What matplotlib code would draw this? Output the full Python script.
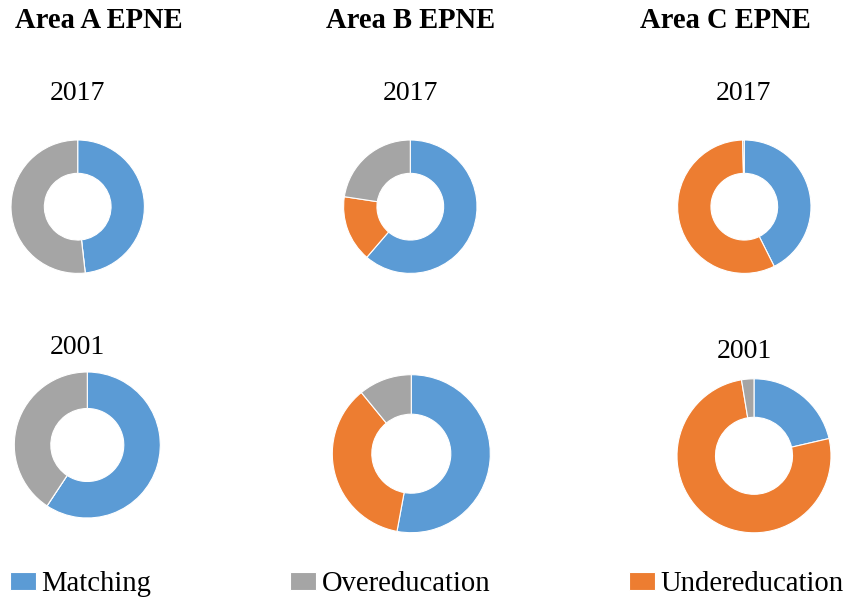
import matplotlib.pyplot as plt

plt.rcParams['font.family'] = ['Liberation Serif', 'DejaVu Serif']

# Datos (porcentajes)
areas = ['Area A EPNE', 'Area B EPNE', 'Area C EPNE']
years = ['2017', '2001']
matching = {'2017': [48.2, 61.3, 42.6], '2001': [59.3, 52.9, 21.4]}
undereducation = {'2017': [0.0, 16.1, 57.0], '2001': [0.0, 36.2, 76.0]}
overeducation = {'2017': [51.8, 22.6, 0.4], '2001': [40.7, 10.9, 2.6]}

colors = ['#5B9BD5', '#ED7D31', '#A5A5A5']
W, H = 860, 601

fig = plt.figure(figsize=(W / 100, H / 100), dpi=100)

# centros y radios de cada dona en pixeles
centers = {'2017': [(77.7, 206.7, 66.7), (410.3, 206.7, 66.7), (744.3, 206.7, 66.7)],
           '2001': [(87.3, 445.0, 73.0), (411.3, 453.7, 79.0), (754.0, 455.8, 77.0)]}

wedges_ref = None
for year in years:
    for i, area in enumerate(areas):
        cx, cy, r = centers[year][i]
        ax = fig.add_axes([(cx - r) / W, 1 - (cy + r) / H, 2 * r / W, 2 * r / H])
        vals = [matching[year][i], undereducation[year][i], overeducation[year][i]]
        wedges, _ = ax.pie(vals, colors=colors, startangle=90, counterclock=False,
                           radius=1, wedgeprops=dict(width=0.5, edgecolor='white', linewidth=0.8))
        ax.set_xlim(-1, 1)
        ax.set_ylim(-1, 1)
        ax.set_aspect('auto')
        ax.axis('off')
        if year == '2017' and i == 1:
            wedges_ref = wedges

# titulos
for x, area in zip([99, 411, 725], areas):
    fig.text(x / W, 1 - 20 / H, area, ha='center', va='center', fontsize=20.6, fontweight='bold')

# etiquetas de anio
year_labels = [(77, 93, '2017'), (410, 93, '2017'), (743, 93, '2017'),
               (77, 347, '2001'), (744, 352, '2001')]
for x, y, t in year_labels:
    fig.text(x / W, 1 - y / H, t, ha='center', va='center', fontsize=20)

handles = [wedges_ref[0], wedges_ref[2], wedges_ref[1]]
fig.legend(handles, ['Matching', 'Overeducation', 'Undereducation'],
           loc='center left', bbox_to_anchor=(10 / W, 1 - 584 / H), ncol=3,
           frameon=False, fontsize=20.6, borderpad=0, borderaxespad=0,
           handlelength=0.9, handleheight=0.6, handletextpad=0.2, columnspacing=4.85)

fig.savefig('out.png', dpi=100)
